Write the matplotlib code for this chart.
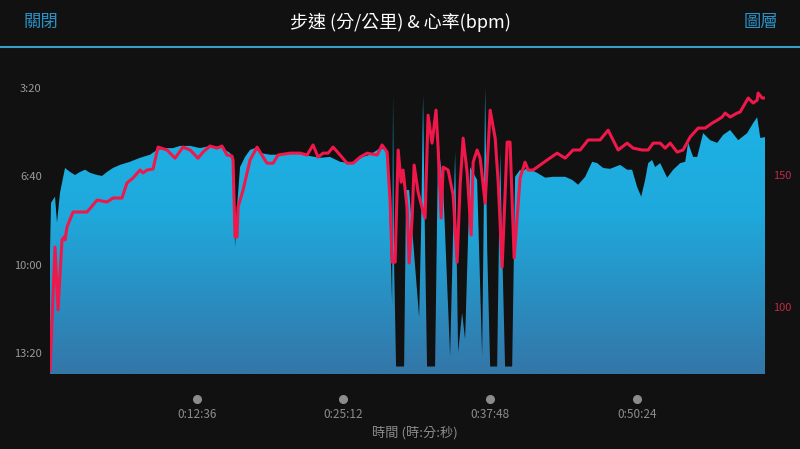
import numpy as np
import matplotlib
matplotlib.use('Agg')
import matplotlib.pyplot as plt
from matplotlib.colors import LinearSegmentedColormap
from matplotlib.ticker import FuncFormatter

plt.rcParams['font.family'] = ['Noto Sans CJK TC', 'DejaVu Sans']

# pace (seconds per km) vs elapsed time (minutes)
pace_t = [0.0, 0.09, 0.43, 0.60, 0.86, 1.29, 1.72, 2.15, 2.58, 3.01, 3.44, 4.04, 4.47,
          4.90, 5.41, 6.01, 6.87, 7.73, 8.59, 9.19, 10.05, 10.57, 11.17, 12.03, 12.89,
          13.74, 14.60, 15.46, 15.72, 15.89, 16.06, 16.32, 16.75, 17.18, 17.61, 18.04,
          18.90, 19.76, 20.62, 21.48, 22.33, 23.19, 24.05, 24.91, 25.77, 26.63, 27.49,
          28.35, 28.95, 29.12, 29.38, 29.46, 29.55, 29.72, 30.41, 30.58, 30.84,
          31.70, 31.87, 32.04, 32.21, 32.38, 33.07, 33.33, 33.76, 34.36, 34.79, 35.05,
          35.39, 35.65, 36.08, 36.68, 37.11, 37.37, 37.54, 37.80, 38.40, 38.66, 38.83,
          39.08, 39.69, 39.94, 40.37, 40.54, 40.97, 41.83, 42.52, 43.21, 44.24, 44.84,
          45.36, 45.96, 46.56, 46.99, 47.50, 48.10, 48.96, 49.56, 49.99, 50.42, 50.77,
          51.11, 51.37, 51.71, 51.97, 52.40, 53.00, 53.52, 54.12, 54.55, 54.80, 55.23,
          55.58, 56.09, 56.69, 57.30, 57.81, 58.41, 59.10, 59.87, 60.39, 60.73, 61.00,
          61.42]
pace_s = [570, 460, 446, 505, 437, 381, 390, 397, 390, 385, 392, 397, 399,
          390, 381, 374, 367, 358, 351, 340, 336, 336, 331, 331, 336,
          331, 333, 347, 358, 561, 470, 379, 356, 340, 336, 347,
          351, 351, 347, 349, 354, 358, 356, 367, 370, 358, 351,
          336, 340, 450, 690, 216, 600, 831, 831, 431, 431,
          720, 520, 216, 560, 831, 831, 324, 420, 808, 345, 799,
          709, 770, 379, 408, 808, 200, 560, 831, 831, 345, 560,
          831, 831, 401, 385, 390, 381, 392, 403, 401, 401, 408,
          419, 401, 367, 370, 381, 383, 374, 385, 385, 424, 446,
          408, 370, 363, 379, 370, 403, 385, 370, 367, 324, 356,
          356, 302, 318, 324, 306, 295, 318, 302, 279, 266, 313,
          311]

# heart rate (bpm) vs elapsed time (minutes)
hr_t = [0.0, 0.43, 0.69, 1.03, 1.20, 1.29, 1.46, 1.98, 3.18, 4.04, 4.90, 5.41, 6.18,
        6.61, 7.13, 7.73, 7.99, 8.33, 8.85, 9.28, 10.05, 10.74, 11.42, 12.03, 12.71,
        13.14, 13.74, 14.34, 14.77, 15.20, 15.63, 15.72, 15.89, 16.06, 16.15, 16.58,
        17.18, 17.78, 18.30, 18.64, 19.16, 19.59, 20.62, 21.48, 22.08, 22.59, 23.02,
        23.45, 23.88, 24.31, 24.91, 25.51, 26.03, 26.63, 27.23, 28.09, 28.52, 28.95,
        29.21, 29.38, 29.64, 29.90, 30.15, 30.32, 30.67, 30.84, 31.10, 31.27, 31.61,
        31.96, 32.21, 32.47, 32.81, 33.15, 33.33, 33.59, 33.76, 34.19, 34.62,
        34.96, 35.22, 35.48, 35.82, 36.17, 36.34, 36.68, 36.94, 37.37, 37.80, 38.23,
        38.49, 38.83, 39.26, 39.51, 39.86, 40.37, 40.80, 41.06, 41.49, 42.69, 43.55,
        44.24, 44.92, 45.53, 46.21, 47.24, 47.93, 48.79, 49.56, 50.08, 50.85, 51.37,
        51.80, 52.40, 52.83, 53.26, 53.86, 54.37, 54.97, 55.66, 56.26, 56.87, 57.30,
        57.72, 57.98, 58.41, 59.01, 59.27, 59.96, 60.39, 60.73, 60.81, 61.16, 61.42]
hr_bpm = [76, 122.7, 98.9, 125.4, 126.5, 125.4, 130.3, 136.0, 136.0, 140.5, 139.8, 141.3, 141.3,
          147.0, 148.9, 151.9, 150.8, 151.9, 152.3, 160.6, 159.5, 156.4, 160.6, 159.5, 156.4,
          158.7, 161.0, 160.2, 161.0, 157.6, 157.2, 155.7, 126.5, 126.5, 137.9, 144.3,
          155.7, 160.6, 156.8, 154.5, 154.5, 157.6, 158.3, 158.3, 157.6, 161.4, 156.8,
          158.3, 158.3, 160.6, 157.6, 154.5, 154.5, 156.8, 158.3, 157.6, 161.4, 158.7,
          139.8, 117.0, 117.0, 159.5, 147.3, 151.9, 137.5, 116.7, 133.7, 153.8, 143.6,
          137.5, 133.7, 172.7, 162.1, 174.6, 160.2, 133.7, 153.0, 151.9, 142.4,
          117.0, 146.2, 164.0, 151.1, 127.3, 154.9, 159.5, 156.4, 139.4, 174.6, 164.0,
          147.3, 115.1, 162.5, 162.5, 118.6, 148.9, 154.9, 151.9, 151.9, 155.7, 158.3,
          156.4, 159.5, 159.5, 163.3, 163.3, 167.0, 159.5, 162.1, 160.2, 159.5, 159.5,
          162.1, 162.1, 160.2, 162.1, 158.7, 159.5, 164.4, 167.8, 167.8, 169.7, 170.8,
          172.0, 173.5, 172.0, 173.5, 173.9, 179.2, 177.3, 178.4, 181.1, 179.2, 179.2]

pace_ticks = [200, 400, 600, 800]
hr_ticks = [100, 150]
time_ticks = [12.6, 25.2, 37.8, 50.4]

BG = '#111111'
T_END = 61.42
PACE_SLOW, PACE_FAST = 848, 125
HR_LOW, HR_HIGH = 74.6, 195.5


def fmt_pace(s, pos=None):
    s = int(round(s))
    return f"{s // 60}:{s % 60:02d}"


def fmt_time(m, pos=None):
    s = int(round(m * 60))
    return f"{s // 3600}:{(s // 60) % 60:02d}:{s % 60:02d}"


fig = plt.figure(figsize=(8, 4.49), dpi=100, facecolor=BG)

# header
fig.text(0.029, 0.951, '關閉', color='#2b92c8', fontsize=12.5, ha='left', va='center')
fig.text(0.9725, 0.951, '圖層', color='#2b92c8', fontsize=12.5, ha='right', va='center')
fig.text(0.5, 0.951, '步速 (分/公里) & 心率(bpm)', color='white', fontsize=13,
         ha='center', va='center')
fig.add_artist(plt.Line2D([0, 1], [0.895, 0.895], color='#3a9fc8', lw=1.5,
                          transform=fig.transFigure))

ax = fig.add_axes([0.0625, 0.167, 0.894, 0.7105])
ax.set_facecolor(BG)

# pace area with vertical gradient
poly = ax.fill_between(pace_t, pace_s, PACE_SLOW, facecolor='none', edgecolor='none')
cmap = LinearSegmentedColormap.from_list('pace', ['#1cb8ea', '#1fa9dc', '#3476a8'])
grad = np.linspace(0, 1, 256).reshape(-1, 1)
img = ax.imshow(grad, cmap=cmap, aspect='auto', origin='upper',
                extent=[0, T_END, PACE_SLOW, PACE_FAST], zorder=1)
img.set_clip_path(poly.get_paths()[0], transform=ax.transData)

ax.set_xlim(0, T_END)
ax.set_ylim(PACE_SLOW, PACE_FAST)
ax.set_yticks(pace_ticks)
ax.yaxis.set_major_formatter(FuncFormatter(fmt_pace))
ax.set_xticks(time_ticks)
ax.xaxis.set_major_formatter(FuncFormatter(fmt_time))
ax.tick_params(axis='y', length=0, pad=6, labelcolor='#9a9a9a', labelsize=8)
ax.tick_params(axis='x', length=0, pad=24.5, labelcolor='#8c8c8c', labelsize=8.5)
for sp in ax.spines.values():
    sp.set_visible(False)

# tick dots below the plot
ax.plot(time_ticks, [-0.078] * len(time_ticks), 'o', ms=5.5, color='#8c8c8c',
        transform=ax.get_xaxis_transform(), clip_on=False)

# heart rate line
ax2 = ax.twinx()
ax2.plot(hr_t, hr_bpm, color='#f0174b', lw=2.2, solid_joinstyle='round')
ax2.set_ylim(HR_LOW, HR_HIGH)
ax2.set_yticks(hr_ticks)
ax2.tick_params(axis='y', length=0, pad=5.5, labelcolor='#c0284a', labelsize=8)
for sp in ax2.spines.values():
    sp.set_visible(False)

fig.text(0.519, 0.0356, '時間 (時:分:秒)', color='#8c8c8c', fontsize=9.5,
         ha='center', va='center')

fig.savefig('out.png', dpi=100, facecolor=BG)
